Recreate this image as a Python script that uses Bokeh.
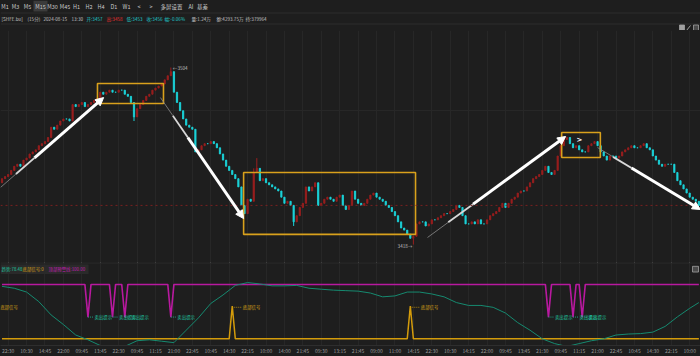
from bokeh.plotting import figure
from bokeh.layouts import column
from bokeh.models import (Range1d, FixedTicker, Span, Arrow, NormalHead, Grid,
                          GlobalInlineStyleSheet)
from bokeh.embed import file_html
from bokeh.resources import INLINE
from bokeh.core.properties import value

# ---------------- data ----------------
closes = [
    3450, 3451, 3452, 3454, 3456, 3457, 3456, 3459, 3460, 3462,
    3463, 3464, 3466, 3467, 3468, 3470, 3475, 3474, 3476, 3478,
    3479, 3479, 3478, 3486, 3485, 3486, 3487, 3485, 3486, 3487,
    3488, 3489, 3492, 3491, 3492, 3493, 3492, 3492, 3493, 3493,
    3491, 3490, 3487, 3480, 3484, 3486, 3488, 3490, 3491, 3493,
    3494, 3495, 3496, 3498, 3500, 3502, 3492, 3487, 3483, 3479,
    3476, 3475, 3474, 3463, 3464, 3466, 3467, 3467, 3468, 3467,
    3465, 3462, 3459, 3456, 3454, 3452, 3450, 3446, 3437, 3433,
    3440, 3439, 3453, 3455, 3449, 3450, 3448, 3447, 3446, 3445,
    3444, 3441, 3438, 3439, 3437, 3429, 3432, 3436, 3438, 3446,
    3444, 3446, 3448, 3437, 3438, 3440, 3441, 3440, 3439, 3441,
    3442, 3437, 3435, 3437, 3444, 3440, 3438, 3437, 3438, 3440,
    3442, 3443, 3441, 3440, 3439, 3437, 3436, 3434, 3432, 3429,
    3426, 3425, 3423, 3421, 3422, 3428, 3429, 3429, 3427, 3428,
    3430, 3430, 3431, 3432, 3433, 3433, 3434, 3435, 3437, 3436,
    3432, 3428, 3428, 3429, 3428, 3430, 3428, 3428, 3430, 3432,
    3433, 3434, 3436, 3438, 3436, 3438, 3440, 3441, 3443, 3444,
    3444, 3446, 3448, 3450, 3451, 3452, 3454, 3456, 3453, 3452,
    3454, 3461, 3466, 3469, 3470, 3467, 3465, 3466, 3464, 3463,
    3463, 3466, 3467, 3468, 3466, 3463, 3461, 3459, 3461, 3461,
    3460, 3461, 3463, 3464, 3465, 3466, 3465, 3465, 3466, 3467,
    3465, 3464, 3461, 3459, 3457, 3456, 3457, 3457, 3457, 3453,
    3449, 3447, 3445, 3443, 3441, 3440, 3439, 3437,
]
first_open = 3448
wick_high = {55: 3504, 82: 3455, 83: 3460}
wick_low = {43: 3478, 95: 3427, 134: 3418}
ref_price = 3437          # dotted reference line

time_labels = ["22:30", "10:30", "14:45", "22:00", "09:45", "13:45", "22:30", "09:45",
               "11:15", "21:00", "22:45", "10:45", "14:30", "22:15", "10:00", "14:00",
               "21:45", "09:30", "13:15", "21:45", "09:00", "11:00", "14:15", "22:30",
               "10:30", "14:15", "22:00", "09:45", "13:45", "21:30", "09:45", "11:15",
               "21:00", "22:45", "10:45", "14:30", "22:15", "10:00"]

# gold boxes (bar index / price)
box_bar_left = [31.1, 78.7, 182.3]
box_bar_right = [52.6, 134.7, 194.9]
box_price_low = [3486.5, 3422.9, 3460.3]
box_price_high = [3496.2, 3453.0, 3472.4]

# white trend arrows (bar index / price)
arrow_bar_start = [-0.5, 51.6, 138.6, 194.0]
arrow_price_start = [3445.7, 3489.4, 3421.4, 3465.1]
arrow_bar_end = [33.1, 78.7, 183.6, 227.5]
arrow_price_end = [3489.4, 3430.6, 3470.5, 3435.0]
chevron_bar, chevron_price = 188.1, 3469

# indicator panel
teal_bars = list(range(0, 228, 4)) + [227]
teal_vals = [96.5, 93, 86, 68.4, 43.9, 26.3, 7, -1.8, -12.3, -14, -14, -3.5, -1.8, -4.4,
             -7, 15.8, 38.6, 65, 80.7, 98.2, 103.5, 100.9, 97.4, 97.4, 98.2, 93, 91.2,
             89.5, 88.6, 87.7, 84.2, 77.2, 78.9, 86, 86, 82.5, 77.2, 66.7, 61.4, 61.4,
             57.9, 47.4, 29.8, 15.8, 0, -8.8, -14, -8.8, -3.5, 0, 7, 8.8, 9.6, 12.3,
             22.8, 40.4, 56.1, 66.7]
top_level = 100
top_dip_bars = [28, 36, 40, 55, 178, 186, 189]
top_dip_value = 40
bottom_level = 0
bottom_spike_bars = [-4, 75, 133]
bottom_spike_value = 60
top_signal_text = "卖出提示"
bottom_signal_text = "底部信号"
legend_names = ["趋势", "底部信号", "顶部预警线"]
legend_values = ["78.48", "0", "100.00"]

header_periods = ["M1", "M3", "M5", "M15", "M30", "M45", "H1", "H2", "H4", "D1", "W1",
                  "<", ">", "多屏设置", "AI", "基差"]
quote_items = ["[SHFE.bu]", "(15分)", "2024-08-15", "13:30", "开:3457", "高:3458",
               "低:3453", "收:3456", "幅:-0.06%", "量:1.24万", "额:4293.75万", "持:379964"]

# ---------------- layout helpers ----------------
W = 700
BG = "#1e1e1e"
FONT = "Noto Sans CJK SC"
X0, DX = 1.5, 3.07                      # pixel of bar 0, pixel per bar
def ix(px): return (px - X0) / DX
P0, PK = 3536.56, 0.4859                # main panel price <-> page y
def pp(py): return P0 - PK * py
def vv(py): return (342 - py) / 0.57    # indicator value <-> page y

tick_bars = list(range(2, 228, 6))

def style(fig):
    fig.background_fill_color = BG
    fig.border_fill_color = BG
    fig.outline_line_color = None
    fig.min_border = 0
    fig.min_border_left = 0
    fig.min_border_right = 0
    fig.min_border_top = 0
    fig.min_border_bottom = 0

# ---------------- header ----------------
hdr = figure(width=W, height=30, x_range=Range1d(0, W), y_range=Range1d(30, 0),
             x_axis_type=None, y_axis_type=None, toolbar_location=None,
             output_backend="svg")
style(hdr)
hdr.segment(x0=[0, 0], y0=[12.5, 23.5], x1=[W, W], y1=[12.5, 23.5],
            line_color="#2c2c2c", line_width=1)
hdr.quad(left=[33], right=[47], top=[0], bottom=[11], fill_color="#3b3b3b", line_color=None)
period_x = [4.5, 15, 27, 40, 52, 64.5, 76, 88.5, 100.5, 113.5, 126, 138.5, 150.5, 171, 190.5, 202]
hdr.text(x=period_x, y=[6.5] * len(period_x), text=header_periods, text_align="center",
         text_baseline="middle", text_font_size="5.5px", text_color="#c8c8c8",
         text_font=value(FONT))
quote_x = [1, 27, 43, 71, 86, 106, 126, 146, 164, 191, 216, 245]
quote_col = ["#c0c0c0"] * 4 + ["#1fc8c8", "#e03030", "#1fc8c8", "#1fc8c8", "#1fc8c8",
                                "#c0c0c0", "#c0c0c0", "#c0c0c0"]
hdr.text(x=quote_x, y=[18] * len(quote_x), text=quote_items, text_align="left",
         text_baseline="middle", text_font_size="4.6px", text_color=quote_col,
         text_font=value(FONT))
hdr.quad(left=[679, 693], right=[684, 698], top=[24.5, 24.5], bottom=[30, 30],
         fill_color=["#a0a0a0", "#4a4a4a"], line_color="#a0a0a0", line_width=0.8)
hdr.segment(x0=[686], y0=[30], x1=[690], y1=[25], line_color="#a0a0a0", line_width=1)

# ---------------- main candle panel ----------------
main = figure(width=W, height=232, x_range=Range1d(ix(0), ix(W)),
              y_range=Range1d(pp(262), pp(30)), x_axis_type=None, y_axis_type=None,
              toolbar_location=None, output_backend="svg")
style(main)
main.add_layout(Grid(dimension=0, ticker=FixedTicker(ticks=tick_bars),
                     grid_line_color="#272727", grid_line_width=1))
main.add_layout(Grid(dimension=1, ticker=FixedTicker(ticks=[3483]),
                     grid_line_color="#272727", grid_line_width=1))
main.add_layout(Span(location=ref_price, dimension="width", line_color="#7a2020",
                     line_dash="2 3", line_width=1))

N = len(closes)
bars = list(range(N))
opens = [first_open] + closes[:-1]
highs = [wick_high.get(i, max(o, c)) for i, (o, c) in enumerate(zip(opens, closes))]
lows = [wick_low.get(i, min(o, c)) for i, (o, c) in enumerate(zip(opens, closes))]
UP, DOWN = "#981e1e", "#1bd2d8"
cols = [UP if c > o else DOWN for o, c in zip(opens, closes)]
main.segment(x0=bars, y0=lows, x1=bars, y1=highs, line_color=cols, line_width=1)
main.vbar(x=bars, width=0.42, top=[max(o, c) for o, c in zip(opens, closes)],
          bottom=[min(o, c) for o, c in zip(opens, closes)], fill_color=cols,
          line_color=cols, line_width=0.8)

main.quad(left=box_bar_left, right=box_bar_right, bottom=box_price_low, top=box_price_high,
          fill_color=None, line_color="#d9a11c", line_width=1.6)

for xs, ys, xe, ye in zip(arrow_bar_start, arrow_price_start, arrow_bar_end, arrow_price_end):
    f1, f2 = 0.15, 0.33
    xa, ya = xs + (xe - xs) * f1, ys + (ye - ys) * f1
    xb, yb = xs + (xe - xs) * f2, ys + (ye - ys) * f2
    main.segment(x0=[xs], y0=[ys], x1=[xa], y1=[ya], line_color="#8c8c8c", line_width=0.8)
    main.segment(x0=[xa], y0=[ya], x1=[xb], y1=[yb], line_color="#d8d8d8", line_width=1.8)
    main.add_layout(Arrow(x_start=xb, y_start=yb, x_end=xe, y_end=ye, line_color="white",
                          line_width=3,
                          end=NormalHead(size=8, fill_color="white", line_color="white",
                                         line_width=1)))

peak_bar = max(range(N), key=lambda i: highs[i])
low_bar = min(range(N), key=lambda i: lows[i])
main.text(x=[peak_bar], y=[highs[peak_bar]], text=[f"←{highs[peak_bar]}"], x_offset=2,
          text_baseline="middle", text_align="left", text_font_size="4.6px",
          text_color="#bdbdbd", text_font=value(FONT))
main.text(x=[low_bar], y=[lows[low_bar]], text=[f"{lows[low_bar]}→"], x_offset=-1, y_offset=1,
          text_baseline="middle", text_align="right", text_font_size="4.6px",
          text_color="#bdbdbd", text_font=value(FONT))
main.text(x=[chevron_bar], y=[chevron_price], text=[">"], text_align="center",
          text_baseline="middle", text_font_size="7px", text_color="white",
          text_font_style="bold", text_font=value("DejaVu Sans"))

# ---------------- indicator panel ----------------
sub = figure(width=W, height=94, x_range=main.x_range, y_range=Range1d(vv(349), vv(262)),
             y_axis_type=None, toolbar_location=None, output_backend="svg")
style(sub)
sub.add_layout(Grid(dimension=0, ticker=FixedTicker(ticks=tick_bars),
                    grid_line_color="#272727", grid_line_width=1))
sub.add_layout(Span(location=vv(262.5), dimension="width", line_color="#2e2e2e", line_width=1))
ax = sub.xaxis[0]
ax.ticker = FixedTicker(ticks=tick_bars)
ax.major_label_overrides = {b: t for b, t in zip(tick_bars, time_labels)}
ax.major_label_text_font_size = "5px"
ax.major_label_text_color = "#9a9a9a"
ax.major_label_text_font = FONT
ax.major_tick_line_color = None
ax.minor_tick_line_color = None
ax.major_tick_out = 0
ax.major_tick_in = 0
ax.major_label_standoff = 1
ax.axis_line_color = "#2e2e2e"

top_series = [top_dip_value if b in top_dip_bars else top_level for b in bars]
bottom_series = [bottom_spike_value if b in bottom_spike_bars else bottom_level for b in bars]
sub.line(x=bars, y=bottom_series, line_color="#d39b0b", line_width=1.5)
sub.line(x=bars, y=top_series, line_color="#b8199f", line_width=1.6)
sub.line(x=teal_bars, y=teal_vals, line_color="#168a70", line_width=1)

lead = 6 / DX
sub.segment(x0=top_dip_bars, y0=[top_dip_value] * len(top_dip_bars),
            x1=[b + lead for b in top_dip_bars], y1=[top_dip_value] * len(top_dip_bars),
            line_color="#1fbf9a", line_width=0.8, line_dash="1 1")
sub.text(x=top_dip_bars, y=[top_dip_value] * len(top_dip_bars),
         text=[top_signal_text] * len(top_dip_bars), x_offset=6.5, text_baseline="middle",
         text_align="left", text_font_size="4.4px", text_color="#1fd0a8",
         text_font=value(FONT))
lead2 = 10 / DX
sub.segment(x0=bottom_spike_bars, y0=[bottom_spike_value - 2] * len(bottom_spike_bars),
            x1=[b + lead2 for b in bottom_spike_bars],
            y1=[bottom_spike_value - 2] * len(bottom_spike_bars),
            line_color="#c8950e", line_width=0.8, line_dash="1 1")
sub.text(x=bottom_spike_bars, y=[bottom_spike_value - 2] * len(bottom_spike_bars),
         text=[bottom_signal_text] * len(bottom_spike_bars), x_offset=10.5,
         text_baseline="middle", text_align="left", text_font_size="4.4px",
         text_color="#d4a017", text_font=value(FONT))

# legend strip
sub.quad(left=[ix(0)], right=[ix(88)], top=[vv(264)], bottom=[vv(274)],
         fill_color="#2a2a2a", line_color=None)
leg_x = [ix(1), ix(22), ix(48)]
leg_col = ["#1fc8a0", "#d4a017", "#c01fb0"]
sub.text(x=leg_x, y=[vv(269)] * 3, text=[f"{n}:{v}" for n, v in zip(legend_names, legend_values)],
         text_baseline="middle", text_align="left", text_font_size="4.4px",
         text_color=leg_col, text_font=value(FONT))
sub.quad(left=[ix(692)], right=[ix(698)], top=[vv(266)], bottom=[vv(272)],
         fill_color="#4a4a4a", line_color="#a0a0a0", line_width=0.8)

p = column(hdr, main, sub, spacing=0)
p.stylesheets = [GlobalInlineStyleSheet(
    css="html, body {margin:0 !important; padding:0 !important; background:#1e1e1e; overflow:hidden;}")]

open("out.html", "w").write(file_html(p, INLINE))
